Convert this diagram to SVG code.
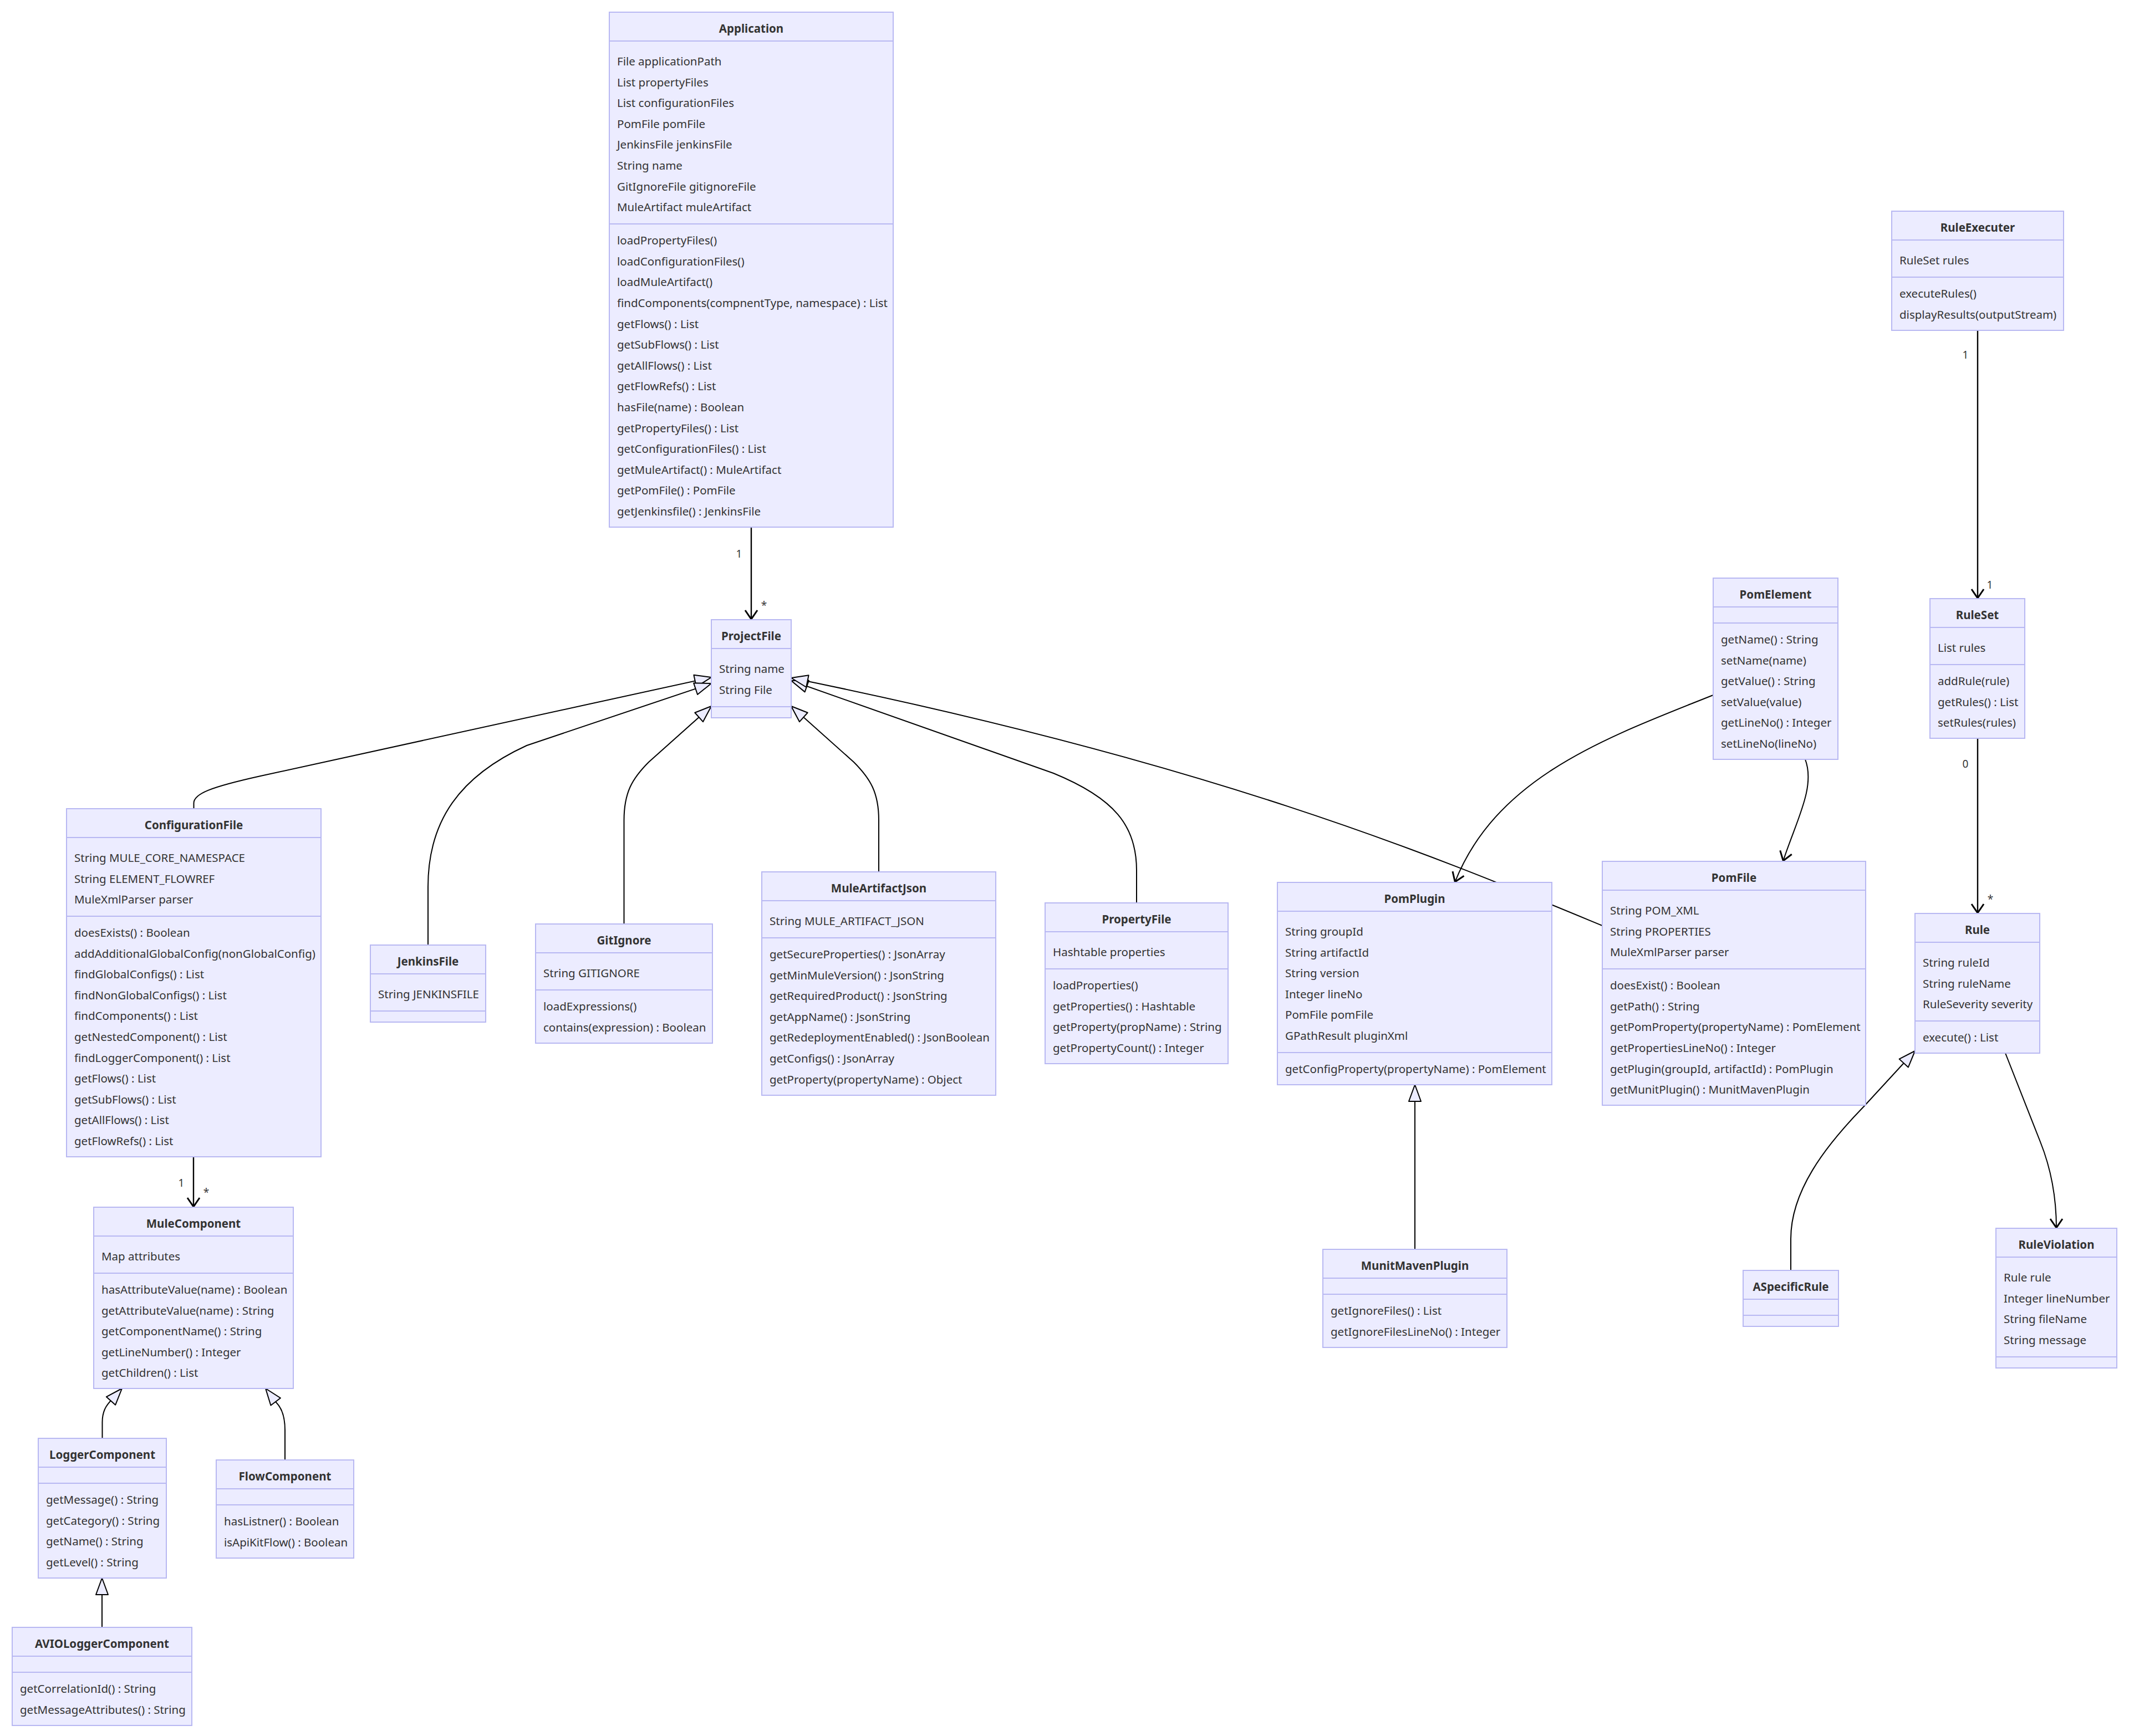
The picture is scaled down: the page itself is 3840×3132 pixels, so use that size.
<svg xmlns="http://www.w3.org/2000/svg" width="3840" height="3132" viewBox="0 0 3840 3132">
<style>
.box{fill:#ECECFF;stroke:#b8b8f2;stroke-width:2}
.dv{stroke:#b8b8f2;stroke-width:2}
.t{font-family:"Noto Sans","Open Sans",sans-serif;font-size:20.5px;fill:#333;dominant-baseline:central}
.ti{font-weight:bold;text-anchor:middle}
.e{fill:none;stroke:#000;stroke-width:2}
.ea{fill:none;stroke:#000;stroke-width:2.4}
.lb{font-family:"Noto Sans","Open Sans",sans-serif;font-size:19px;fill:#333;dominant-baseline:central;text-anchor:middle}
</style>
<defs>
<marker id="ext" markerUnits="userSpaceOnUse" markerWidth="36" markerHeight="28" viewBox="-33 -14 36 28" refX="0" refY="0" orient="auto"><path d="M0,0 L-30,-11 L-30,11 Z" fill="#ECECFF" stroke="#000" stroke-width="2" stroke-linejoin="round"/></marker>
<marker id="arr" markerUnits="userSpaceOnUse" markerWidth="26" markerHeight="30" viewBox="-22 -15 26 30" refX="1" refY="0" orient="auto"><path d="M-16,-11 L0,0 L-16,11" fill="none" stroke="#000" stroke-width="3"/></marker>
</defs>
<rect width="3840" height="3132" fill="#fff"/>
<g id="connectors">
<path class="ea" d="M1355 951 L1355 1118" marker-end="url(#arr)"/>
<path class="e" d="M349.5 1459 L349.5 1449 C349.5 1432 380 1420 470 1400 L1283 1222" marker-end="url(#ext)"/>
<path class="e" d="M772 1705 L772 1600 C772 1480 830 1400 950 1345 L1283 1233" marker-end="url(#ext)"/>
<path class="e" d="M1125.5 1667 L1125.5 1480 C1125.5 1430 1140 1405 1170 1375 L1283 1274" marker-end="url(#ext)"/>
<path class="e" d="M1585 1573 L1585 1480 C1585 1430 1570 1405 1540 1375 L1427 1274" marker-end="url(#ext)"/>
<path class="e" d="M2050 1629 L2050 1570 C2050 1490 2010 1440 1900 1395 L1427 1228" marker-end="url(#ext)"/>
<path class="e" d="M2890 1670 C2600 1550 2200 1380 1427 1223" marker-end="url(#ext)"/>
<path class="e" d="M3090 1254 C2900 1330 2700 1400 2624 1592" marker-end="url(#arr)"/>
<path class="e" d="M3256 1370 C3275 1420 3240 1480 3216 1554" marker-end="url(#arr)"/>
<path class="ea" d="M3567 596 L3567 1080" marker-end="url(#arr)"/>
<path class="ea" d="M3567 1332 L3567 1648" marker-end="url(#arr)"/>
<path class="e" d="M3230 2292 L3230 2235 C3230 2150 3290 2070 3362 1996 L3454 1896" marker-end="url(#ext)"/>
<path class="e" d="M3617 1900 L3680 2060 C3700 2110 3709 2160 3709 2216" marker-end="url(#arr)"/>
<path class="ea" d="M349 2087 L349 2178" marker-end="url(#arr)"/>
<path class="e" d="M184.5 2595 L184.5 2566 C184.5 2548 190 2536 203 2524 L220 2505" marker-end="url(#ext)"/>
<path class="e" d="M514 2634 L514 2580 C514 2555 508 2540 498 2530 L479 2505" marker-end="url(#ext)"/>
<path class="e" d="M184 2936 L184 2847" marker-end="url(#ext)"/>
<path class="e" d="M2552 2254 L2552 1957" marker-end="url(#ext)"/>
<text class="lb" x="1333" y="999">1</text>
<text class="lb" x="1378" y="1092">*</text>
<text class="lb" x="3545" y="640">1</text>
<text class="lb" x="3589" y="1055">1</text>
<text class="lb" x="3545" y="1378">0</text>
<text class="lb" x="3590" y="1622">*</text>
<text class="lb" x="327" y="2134">1</text>
<text class="lb" x="372" y="2151">*</text>
</g>
<g id="Application">
<rect class="box" x="1099" y="22" width="512" height="929"/>
<line class="dv" x1="1099" y1="74" x2="1611" y2="74"/>
<line class="dv" x1="1099" y1="404" x2="1611" y2="404"/>
<text class="t ti" x="1355" y="51">Application</text>
<text class="t" x="1113" y="110">File applicationPath</text>
<text class="t" x="1113" y="148">List propertyFiles</text>
<text class="t" x="1113" y="185">List configurationFiles</text>
<text class="t" x="1113" y="223">PomFile pomFile</text>
<text class="t" x="1113" y="260">JenkinsFile jenkinsFile</text>
<text class="t" x="1113" y="298">String name</text>
<text class="t" x="1113" y="336">GitIgnoreFile gitignoreFile</text>
<text class="t" x="1113" y="373">MuleArtifact muleArtifact</text>
<text class="t" x="1113" y="433">loadPropertyFiles()</text>
<text class="t" x="1113" y="471">loadConfigurationFiles()</text>
<text class="t" x="1113" y="508">loadMuleArtifact()</text>
<text class="t" x="1113" y="546">findComponents(compnentType, namespace) : List</text>
<text class="t" x="1113" y="584">getFlows() : List</text>
<text class="t" x="1113" y="621">getSubFlows() : List</text>
<text class="t" x="1113" y="659">getAllFlows() : List</text>
<text class="t" x="1113" y="696">getFlowRefs() : List</text>
<text class="t" x="1113" y="734">hasFile(name) : Boolean</text>
<text class="t" x="1113" y="772">getPropertyFiles() : List</text>
<text class="t" x="1113" y="809">getConfigurationFiles() : List</text>
<text class="t" x="1113" y="847">getMuleArtifact() : MuleArtifact</text>
<text class="t" x="1113" y="884">getPomFile() : PomFile</text>
<text class="t" x="1113" y="922">getJenkinsfile() : JenkinsFile</text>
</g>
<g id="ProjectFile">
<rect class="box" x="1283" y="1118" width="144" height="177"/>
<line class="dv" x1="1283" y1="1170" x2="1427" y2="1170"/>
<line class="dv" x1="1283" y1="1275" x2="1427" y2="1275"/>
<text class="t ti" x="1355" y="1147">ProjectFile</text>
<text class="t" x="1297" y="1206">String name</text>
<text class="t" x="1297" y="1244">String File</text>
</g>
<g id="ConfigurationFile">
<rect class="box" x="120" y="1459" width="459" height="628"/>
<line class="dv" x1="120" y1="1511" x2="579" y2="1511"/>
<line class="dv" x1="120" y1="1653" x2="579" y2="1653"/>
<text class="t ti" x="349.5" y="1488">ConfigurationFile</text>
<text class="t" x="134" y="1547">String MULE_CORE_NAMESPACE</text>
<text class="t" x="134" y="1585">String ELEMENT_FLOWREF</text>
<text class="t" x="134" y="1622">MuleXmlParser parser</text>
<text class="t" x="134" y="1682">doesExists() : Boolean</text>
<text class="t" x="134" y="1720">addAdditionalGlobalConfig(nonGlobalConfig)</text>
<text class="t" x="134" y="1757">findGlobalConfigs() : List</text>
<text class="t" x="134" y="1795">findNonGlobalConfigs() : List</text>
<text class="t" x="134" y="1832">findComponents() : List</text>
<text class="t" x="134" y="1870">getNestedComponent() : List</text>
<text class="t" x="134" y="1908">findLoggerComponent() : List</text>
<text class="t" x="134" y="1945">getFlows() : List</text>
<text class="t" x="134" y="1983">getSubFlows() : List</text>
<text class="t" x="134" y="2020">getAllFlows() : List</text>
<text class="t" x="134" y="2058">getFlowRefs() : List</text>
</g>
<g id="JenkinsFile">
<rect class="box" x="668" y="1705" width="208" height="139"/>
<line class="dv" x1="668" y1="1757" x2="876" y2="1757"/>
<line class="dv" x1="668" y1="1824" x2="876" y2="1824"/>
<text class="t ti" x="772" y="1734">JenkinsFile</text>
<text class="t" x="682" y="1793">String JENKINSFILE</text>
</g>
<g id="GitIgnore">
<rect class="box" x="966" y="1667" width="319" height="215"/>
<line class="dv" x1="966" y1="1719" x2="1285" y2="1719"/>
<line class="dv" x1="966" y1="1786" x2="1285" y2="1786"/>
<text class="t ti" x="1125.5" y="1696">GitIgnore</text>
<text class="t" x="980" y="1755">String GITIGNORE</text>
<text class="t" x="980" y="1815">loadExpressions()</text>
<text class="t" x="980" y="1853">contains(expression) : Boolean</text>
</g>
<g id="MuleArtifactJson">
<rect class="box" x="1374" y="1573" width="422" height="403"/>
<line class="dv" x1="1374" y1="1625" x2="1796" y2="1625"/>
<line class="dv" x1="1374" y1="1692" x2="1796" y2="1692"/>
<text class="t ti" x="1585" y="1602">MuleArtifactJson</text>
<text class="t" x="1388" y="1661">String MULE_ARTIFACT_JSON</text>
<text class="t" x="1388" y="1721">getSecureProperties() : JsonArray</text>
<text class="t" x="1388" y="1759">getMinMuleVersion() : JsonString</text>
<text class="t" x="1388" y="1796">getRequiredProduct() : JsonString</text>
<text class="t" x="1388" y="1834">getAppName() : JsonString</text>
<text class="t" x="1388" y="1871">getRedeploymentEnabled() : JsonBoolean</text>
<text class="t" x="1388" y="1909">getConfigs() : JsonArray</text>
<text class="t" x="1388" y="1947">getProperty(propertyName) : Object</text>
</g>
<g id="PropertyFile">
<rect class="box" x="1885" y="1629" width="330" height="290"/>
<line class="dv" x1="1885" y1="1681" x2="2215" y2="1681"/>
<line class="dv" x1="1885" y1="1748" x2="2215" y2="1748"/>
<text class="t ti" x="2050" y="1658">PropertyFile</text>
<text class="t" x="1899" y="1717">Hashtable properties</text>
<text class="t" x="1899" y="1777">loadProperties()</text>
<text class="t" x="1899" y="1815">getProperties() : Hashtable</text>
<text class="t" x="1899" y="1852">getProperty(propName) : String</text>
<text class="t" x="1899" y="1890">getPropertyCount() : Integer</text>
</g>
<g id="PomPlugin">
<rect class="box" x="2304" y="1592" width="495" height="365"/>
<line class="dv" x1="2304" y1="1644" x2="2799" y2="1644"/>
<line class="dv" x1="2304" y1="1899" x2="2799" y2="1899"/>
<text class="t ti" x="2551.5" y="1621">PomPlugin</text>
<text class="t" x="2318" y="1680">String groupId</text>
<text class="t" x="2318" y="1718">String artifactId</text>
<text class="t" x="2318" y="1755">String version</text>
<text class="t" x="2318" y="1793">Integer lineNo</text>
<text class="t" x="2318" y="1830">PomFile pomFile</text>
<text class="t" x="2318" y="1868">GPathResult pluginXml</text>
<text class="t" x="2318" y="1928">getConfigProperty(propertyName) : PomElement</text>
</g>
<g id="PomFile">
<rect class="box" x="2890" y="1554" width="475" height="440"/>
<line class="dv" x1="2890" y1="1606" x2="3365" y2="1606"/>
<line class="dv" x1="2890" y1="1748" x2="3365" y2="1748"/>
<text class="t ti" x="3127.5" y="1583">PomFile</text>
<text class="t" x="2904" y="1642">String POM_XML</text>
<text class="t" x="2904" y="1680">String PROPERTIES</text>
<text class="t" x="2904" y="1717">MuleXmlParser parser</text>
<text class="t" x="2904" y="1777">doesExist() : Boolean</text>
<text class="t" x="2904" y="1815">getPath() : String</text>
<text class="t" x="2904" y="1852">getPomProperty(propertyName) : PomElement</text>
<text class="t" x="2904" y="1890">getPropertiesLineNo() : Integer</text>
<text class="t" x="2904" y="1928">getPlugin(groupId, artifactId) : PomPlugin</text>
<text class="t" x="2904" y="1965">getMunitPlugin() : MunitMavenPlugin</text>
</g>
<g id="MunitMavenPlugin">
<rect class="box" x="2386" y="2254" width="332" height="177"/>
<line class="dv" x1="2386" y1="2306" x2="2718" y2="2306"/>
<line class="dv" x1="2386" y1="2335" x2="2718" y2="2335"/>
<text class="t ti" x="2552" y="2283">MunitMavenPlugin</text>
<text class="t" x="2400" y="2364">getIgnoreFiles() : List</text>
<text class="t" x="2400" y="2402">getIgnoreFilesLineNo() : Integer</text>
</g>
<g id="PomElement">
<rect class="box" x="3090" y="1043" width="225" height="327"/>
<line class="dv" x1="3090" y1="1095" x2="3315" y2="1095"/>
<line class="dv" x1="3090" y1="1124" x2="3315" y2="1124"/>
<text class="t ti" x="3202.5" y="1072">PomElement</text>
<text class="t" x="3104" y="1153">getName() : String</text>
<text class="t" x="3104" y="1191">setName(name)</text>
<text class="t" x="3104" y="1228">getValue() : String</text>
<text class="t" x="3104" y="1266">setValue(value)</text>
<text class="t" x="3104" y="1303">getLineNo() : Integer</text>
<text class="t" x="3104" y="1341">setLineNo(lineNo)</text>
</g>
<g id="RuleExecuter">
<rect class="box" x="3412" y="381" width="310" height="215"/>
<line class="dv" x1="3412" y1="433" x2="3722" y2="433"/>
<line class="dv" x1="3412" y1="500" x2="3722" y2="500"/>
<text class="t ti" x="3567" y="410">RuleExecuter</text>
<text class="t" x="3426" y="469">RuleSet rules</text>
<text class="t" x="3426" y="529">executeRules()</text>
<text class="t" x="3426" y="567">displayResults(outputStream)</text>
</g>
<g id="RuleSet">
<rect class="box" x="3481" y="1080" width="171" height="252"/>
<line class="dv" x1="3481" y1="1132" x2="3652" y2="1132"/>
<line class="dv" x1="3481" y1="1199" x2="3652" y2="1199"/>
<text class="t ti" x="3566.5" y="1109">RuleSet</text>
<text class="t" x="3495" y="1168">List rules</text>
<text class="t" x="3495" y="1228">addRule(rule)</text>
<text class="t" x="3495" y="1266">getRules() : List</text>
<text class="t" x="3495" y="1303">setRules(rules)</text>
</g>
<g id="Rule">
<rect class="box" x="3454" y="1648" width="225" height="252"/>
<line class="dv" x1="3454" y1="1700" x2="3679" y2="1700"/>
<line class="dv" x1="3454" y1="1842" x2="3679" y2="1842"/>
<text class="t ti" x="3566.5" y="1677">Rule</text>
<text class="t" x="3468" y="1736">String ruleId</text>
<text class="t" x="3468" y="1774">String ruleName</text>
<text class="t" x="3468" y="1811">RuleSeverity severity</text>
<text class="t" x="3468" y="1871">execute() : List</text>
</g>
<g id="RuleViolation">
<rect class="box" x="3600" y="2216" width="218" height="252"/>
<line class="dv" x1="3600" y1="2268" x2="3818" y2="2268"/>
<line class="dv" x1="3600" y1="2448" x2="3818" y2="2448"/>
<text class="t ti" x="3709" y="2245">RuleViolation</text>
<text class="t" x="3614" y="2304">Rule rule</text>
<text class="t" x="3614" y="2342">Integer lineNumber</text>
<text class="t" x="3614" y="2379">String fileName</text>
<text class="t" x="3614" y="2417">String message</text>
</g>
<g id="ASpecificRule">
<rect class="box" x="3144" y="2292" width="172" height="101"/>
<line class="dv" x1="3144" y1="2344" x2="3316" y2="2344"/>
<line class="dv" x1="3144" y1="2373" x2="3316" y2="2373"/>
<text class="t ti" x="3230" y="2321">ASpecificRule</text>
</g>
<g id="MuleComponent">
<rect class="box" x="169" y="2178" width="360" height="327"/>
<line class="dv" x1="169" y1="2230" x2="529" y2="2230"/>
<line class="dv" x1="169" y1="2297" x2="529" y2="2297"/>
<text class="t ti" x="349" y="2207">MuleComponent</text>
<text class="t" x="183" y="2266">Map attributes</text>
<text class="t" x="183" y="2326">hasAttributeValue(name) : Boolean</text>
<text class="t" x="183" y="2364">getAttributeValue(name) : String</text>
<text class="t" x="183" y="2401">getComponentName() : String</text>
<text class="t" x="183" y="2439">getLineNumber() : Integer</text>
<text class="t" x="183" y="2476">getChildren() : List</text>
</g>
<g id="LoggerComponent">
<rect class="box" x="69" y="2595" width="231" height="252"/>
<line class="dv" x1="69" y1="2647" x2="300" y2="2647"/>
<line class="dv" x1="69" y1="2676" x2="300" y2="2676"/>
<text class="t ti" x="184.5" y="2624">LoggerComponent</text>
<text class="t" x="83" y="2705">getMessage() : String</text>
<text class="t" x="83" y="2743">getCategory() : String</text>
<text class="t" x="83" y="2780">getName() : String</text>
<text class="t" x="83" y="2818">getLevel() : String</text>
</g>
<g id="FlowComponent">
<rect class="box" x="390" y="2634" width="248" height="177"/>
<line class="dv" x1="390" y1="2686" x2="638" y2="2686"/>
<line class="dv" x1="390" y1="2715" x2="638" y2="2715"/>
<text class="t ti" x="514" y="2663">FlowComponent</text>
<text class="t" x="404" y="2744">hasListner() : Boolean</text>
<text class="t" x="404" y="2782">isApiKitFlow() : Boolean</text>
</g>
<g id="AVIOLoggerComponent">
<rect class="box" x="22" y="2936" width="324" height="177"/>
<line class="dv" x1="22" y1="2988" x2="346" y2="2988"/>
<line class="dv" x1="22" y1="3017" x2="346" y2="3017"/>
<text class="t ti" x="184" y="2965">AVIOLoggerComponent</text>
<text class="t" x="36" y="3046">getCorrelationId() : String</text>
<text class="t" x="36" y="3084">getMessageAttributes() : String</text>
</g>
</svg>
